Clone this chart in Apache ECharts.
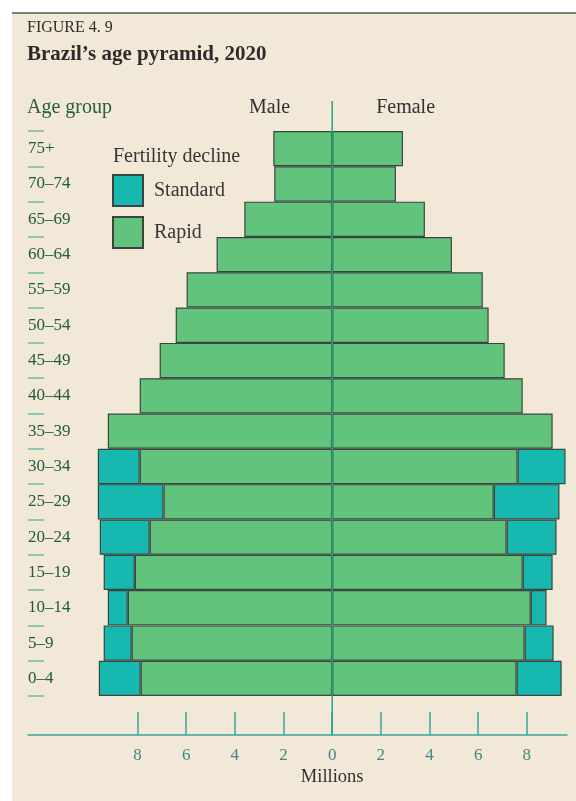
<!DOCTYPE html>
<html>
<head>
<meta charset="utf-8">
<script src="https://cdn.jsdelivr.net/npm/echarts@6/dist/echarts.min.js"></script>
<style>
  html, body { margin: 0; padding: 0; background: #ffffff; }
  #chart { width: 576px; height: 801px; }
</style>
</head>
<body>
<div id="chart"></div>
<script>
// Age groups, youngest first (drawn bottom to top)
const ageGroups = ['0–4', '5–9', '10–14', '15–19', '20–24', '25–29', '30–34', '35–39',
                   '40–44', '45–49', '50–54', '55–59', '60–64', '65–69', '70–74', '75+'];

// Population in millions, 2020 projection
const maleRapid      = [7.87, 8.24, 8.40, 8.11, 7.50, 6.93, 7.91, 9.22, 7.91, 7.09, 6.43, 5.98, 4.75, 3.61, 2.38, 2.42];
const maleStandard   = [9.59, 9.39, 9.22, 9.39, 9.55, 9.63, 9.63, 9.22, 7.91, 7.09, 6.43, 5.98, 4.75, 3.61, 2.38, 2.42];
const femaleRapid    = [7.58, 7.91, 8.16, 7.83, 7.17, 6.64, 7.62, 9.06, 7.83, 7.09, 6.43, 6.19, 4.92, 3.81, 2.62, 2.91];
const femaleStandard = [9.43, 9.10, 8.81, 9.06, 9.22, 9.34, 9.59, 9.06, 7.83, 7.09, 6.43, 6.19, 4.92, 3.81, 2.62, 2.91];

// Axis tick values (millions); labels print the absolute value
const tickValues = [-8, -6, -4, -2, 0, 2, 4, 6, 8];

const SERIF = '"Liberation Serif", "DejaVu Serif", serif';
const RAPID = '#62c47c';
const STANDARD = '#17b8b0';
const EDGE = '#3a463f';
const TEAL = '#34a89c';
const X_MIN = -12.5, X_MAX = 9.65;

// Extra population under standard decline, drawn beyond the rapid bars
function extra(total, rapid, sign) {
  return total.map((t, i) => {
    const d = +(t - rapid[i]).toFixed(2);
    return d > 0 ? sign * d : '-';
  });
}

const chart = echarts.init(document.getElementById('chart'), null, { renderer: 'canvas' });

const barStyle = (color) => ({ color: color, borderColor: EDGE, borderWidth: 1.2 });

chart.setOption({
  backgroundColor: '#ffffff',
  animation: false,
  grid: [
    { left: 28, right: 9, top: 131, bottom: 105 },
    { left: 28, right: 9, top: 700, bottom: 66 }
  ],
  xAxis: [
    { gridIndex: 0, type: 'value', min: X_MIN, max: X_MAX, show: false },
    {
      gridIndex: 1, type: 'value', min: X_MIN, max: X_MAX, position: 'bottom',
      axisLine: { show: true, onZero: false, lineStyle: { color: TEAL, width: 1.5 } },
      axisTick: { show: true, inside: true, length: 23, customValues: tickValues,
                  lineStyle: { color: TEAL, width: 1.5 } },
      axisLabel: { show: true, customValues: tickValues, margin: 12,
                   formatter: v => String(Math.abs(v)),
                   color: '#3f8780', fontFamily: SERIF, fontSize: 17 },
      splitLine: { show: false }
    }
  ],
  yAxis: [
    {
      gridIndex: 0, type: 'category', data: ageGroups, boundaryGap: true,
      axisLine: { show: false, onZero: false },
      axisTick: { show: true, inside: true, length: 16, lineStyle: { color: '#6fb9a9', width: 1.5 } },
      axisLabel: { inside: true, margin: 0, color: '#215a40', fontFamily: SERIF, fontSize: 17 },
      splitLine: { show: false }
    },
    { gridIndex: 1, type: 'value', show: false }
  ],
  legend: {
    data: ['Standard', 'Rapid'],
    orient: 'vertical', left: 112, top: 174, padding: 0,
    itemWidth: 30, itemHeight: 31, itemGap: 9,
    icon: 'rect',
    textStyle: { color: '#3b3535', fontFamily: SERIF, fontSize: 20, padding: [0, 0, 0, 6] },
    selectedMode: false
  },
  series: [
    { name: 'Rapid', type: 'bar', stack: 'male', data: maleRapid.map(v => -v),
      barWidth: '100%', barGap: '-100%', itemStyle: barStyle(RAPID), z: 2 },
    { name: 'Standard', type: 'bar', stack: 'male', data: extra(maleStandard, maleRapid, -1),
      barWidth: '100%', barGap: '-100%', itemStyle: barStyle(STANDARD), z: 2 },
    { name: 'Rapid', type: 'bar', stack: 'female', data: femaleRapid,
      barWidth: '100%', barGap: '-100%', itemStyle: barStyle(RAPID), z: 2 },
    { name: 'Standard', type: 'bar', stack: 'female', data: extra(femaleStandard, femaleRapid, 1),
      barWidth: '100%', barGap: '-100%', itemStyle: barStyle(STANDARD), z: 2 }
  ]
});

// Page furniture, titles and the centre (zero) line
const x0 = chart.convertToPixel({ xAxisIndex: 1 }, 0);
const axisY = chart.convertToPixel({ yAxisIndex: 1 }, 0);
const text = (x, y, str, size, color, opts) => ({
  type: 'text', x: x, y: y, z: 20,
  style: Object.assign({ text: str, fill: color, fontFamily: SERIF, fontSize: size,
                         fontWeight: 'normal', verticalAlign: 'middle', align: 'left' }, opts || {})
});

chart.setOption({
  graphic: [
    { type: 'rect', shape: { x: 12, y: 13, width: 564, height: 788 }, style: { fill: '#f1e8d8' }, z: -10, silent: true },
    { type: 'line', shape: { x1: 12, y1: 13, x2: 576, y2: 13 }, style: { stroke: '#555555', lineWidth: 1.5 }, z: -9 },
    text(27, 28, 'FIGURE 4. 9', 16, '#2f2b2b'),
    text(27, 55, 'Brazil\u2019s age pyramid, 2020', 21, '#2f2b2b', { fontWeight: 'bold' }),
    text(27, 108, 'Age group', 20, '#285c44'),
    text(x0 - 42, 108, 'Male', 20, '#333030', { align: 'right' }),
    text(x0 + 44, 108, 'Female', 20, '#333030'),
    text(113, 157, 'Fertility decline', 20, '#3b3535'),
    text(x0, 777, 'Millions', 18.5, '#333030', { align: 'center' }),
    { type: 'line', z: 30,
      shape: { x1: x0, y1: 101, x2: x0, y2: axisY },
      style: { stroke: '#25a585', lineWidth: 1.5 } }
  ]
});
</script>
</body>
</html>
